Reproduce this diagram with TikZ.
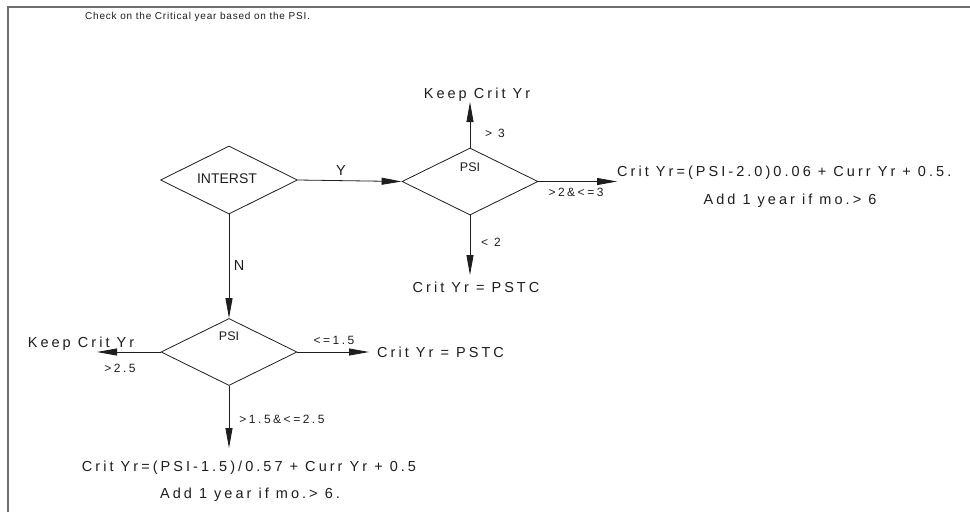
\documentclass[tikz,border=0pt]{standalone}
\usepackage{fontspec}
\setmainfont{Liberation Sans}
\usetikzlibrary{shapes.geometric,arrows.meta}
\newfontfamily\cadfont{Liberation Sans}[LetterSpace=21]
\newfontfamily\plainfont{Liberation Sans}
\newfontfamily\ttlfont{Liberation Sans}[LetterSpace=8]
\definecolor{framegray}{RGB}{110,110,110}
\definecolor{ink}{RGB}{30,30,30}
\tikzset{
  cad/.style={font=\cadfont\fontsize{14.5}{16}\selectfont, inner sep=0pt, text=ink},
  cadlbl/.style={font=\cadfont\fontsize{12}{14}\selectfont, inner sep=0pt, text=ink},
  ttl/.style={font=\ttlfont\fontsize{10}{12}\selectfont, inner sep=0pt, text=ink},
  dia/.style={diamond, draw=ink, line width=0.8pt, aspect=2, inner sep=0pt,
    minimum width=137pt, minimum height=68pt, font=\plainfont\fontsize{14}{16}\selectfont, text=ink},
  psitxt/.style={font=\plainfont\fontsize{12.5}{14}\selectfont, inner sep=0pt, text=ink},
  flow/.style={draw=ink, line width=0.8pt, -{Triangle[length=20pt,width=7pt]}},
}
\begin{document}
\begin{tikzpicture}[x=1pt,y=-1pt]
\useasboundingbox (0,0) rectangle (970,512);
\clip (0,0) rectangle (970,512);
\fill[white] (0,0) rectangle (970,512);
\coordinate (frameBL) at (8,512);
\coordinate (frameTL) at (8,7);
\coordinate (frameTR) at (970,7);
\draw[framegray, line width=2pt] (frameBL) -- (frameTL) -- (frameTR);

% title
\node[ttl, anchor=base west] (title) at (85,19.5) {Check on the Critical year based on the PSI.};

% INTERST decision
\node[dia] (inter) at (229,180) {};
\node[font=\plainfont\fontsize{14}{16}\selectfont, inner sep=0pt, text=ink] (intertxt) at (227,179) {INTERST};

% PSI decision (top)
\node[dia, minimum width=136pt, minimum height=67pt] (psiA) at (470,181.5) {};
\node[psitxt] (psiAtxt) at (470,167) {PSI};

% PSI decision (bottom)
\node[dia, minimum width=136pt, minimum height=67pt] (psiB) at (229,352) {};
\node[psitxt] (psiBtxt) at (229,336) {PSI};

% free ends
\coordinate (upA) at (470,102);
\coordinate (rtA) at (617,181.5);
\coordinate (dnA) at (470,275);
\coordinate (ltB) at (97,352);
\coordinate (rtB) at (369,352);
\coordinate (dnB) at (229,448);

% connectors
\draw[flow] (inter.east) -- (psiA.west);
\draw[flow] (inter.south) -- (psiB.north);
\draw[flow] (psiA.north) -- (upA);
\draw[flow] (psiA.east) -- (rtA);
\draw[flow] (psiA.south) -- (dnA);
\draw[flow] (psiB.west) -- (ltB);
\draw[flow] (psiB.east) -- (rtB);
\draw[flow] (psiB.south) -- (dnB);

% branch labels
\node[cad, anchor=base] (ylbl) at (341,175) {Y};
\node[cad, anchor=base] (nlbl) at (239,270) {N};
\node[cadlbl, anchor=base] (gt3) at (495,137) {> 3};
\node[cadlbl, anchor=base] (gt2le3) at (576,196.5) {>2\&<=3};
\node[cadlbl, anchor=base] (lt2) at (491,246) {< 2};
\node[cadlbl, anchor=base] (gt25) at (120,372.5) {>2.5};
\node[cadlbl, anchor=base] (le15) at (334,344.5) {<=1.5};
\node[cadlbl, anchor=base] (mid) at (282,423.5) {>1.5\&<=2.5};

% outcomes
\node[cad, anchor=base] (keepA) at (477,98) {Keep Crit Yr};
\node[cad, anchor=base west] (formA) at (617,176) {Crit Yr=(PSI-2.0)0.06 + Curr Yr + 0.5.};
\node[cad, anchor=base] (addA) at (790,204) {Add 1 year if mo.> 6};
\node[cad, anchor=base] (pstcA) at (476,292.5) {Crit Yr = PSTC};
\node[cad, anchor=base] (keepB) at (81,347) {Keep Crit Yr};
\node[cad, anchor=base west] (pstcB) at (377,357) {Crit Yr = PSTC};
\node[cad, anchor=base] (formB) at (249,471) {Crit Yr=(PSI-1.5)/0.57 + Curr Yr + 0.5};
\node[cad, anchor=base] (addB) at (250,498) {Add 1 year if mo.> 6.};
\end{tikzpicture}
\end{document}
